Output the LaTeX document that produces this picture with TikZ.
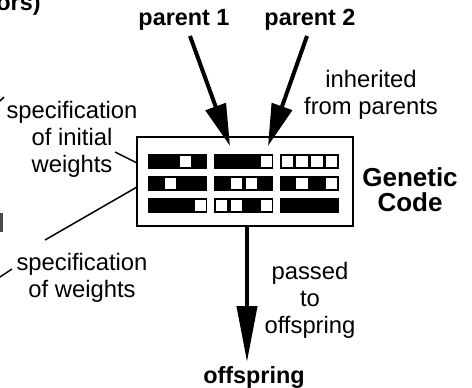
\documentclass[tikz,border=0pt]{standalone}
\usepackage{fontspec}
\setmainfont{Liberation Sans}
\usetikzlibrary{arrows.meta}
\begin{document}
\begin{tikzpicture}[x=0.5pt,y=-0.5pt,
  lbl/.style={inner sep=0pt, align=center, font=\fontsize{11.9}{13.5}\selectfont},
  blbl/.style={inner sep=0pt, align=center, font=\fontsize{11.7}{13.5}\selectfont\bfseries},
  bigarrow/.style={line width=2pt, -{Triangle[length=21pt,width=10.5pt]}},
  longarrow/.style={line width=2pt, -{Triangle[length=28pt,width=10pt]}},
  leader/.style={line width=0.75pt},
  box/.style={draw, line width=1pt, minimum width=108pt, minimum height=44.5pt, inner sep=0pt}]
\useasboundingbox (0,0) rectangle (472,387);
% cropped fragments at the left edge
\node[blbl, anchor=base east] (frag) at (41,10) {ors)};
\draw[leader] (0,101) -- (4,97);
\fill[black!70] (0,213) rectangle (2.5,232);
% genetic code box
\node[box] (gc) at (245,181.5) {};
% genes
\foreach \row/\y in {1/154,2/176,3/198}{
  \foreach \col/\x in {1/148,2/214,3/280}{
    \fill (\x,\y) rectangle ++(59,15);
  }
}
\foreach \x/\y in {
  178/154, 
  259/154, 
  280/154, 294.75/154, 309.5/154, 324.25/154,
  163/176,
  229/176, 244/176,
  294.75/176, 324.25/176,
  193/198,
  214/198, 229/198, 259/198}{
  \fill[white] (\x+1.7,\y+1.7) rectangle ++(11.3,11.6);
}
% labels
\node[blbl] (p1) at (184,20) {parent 1};
\node[blbl] (p2) at (310,20) {parent 2};
\node[blbl] (off) at (254,377) {offspring};
\node[inner sep=0pt, align=center, font=\fontsize{13}{12.5}\selectfont\bfseries] (gcl) at (410,190) {Genetic\\Code};
\node[lbl] (inh) at (371,95) {inherited\\from parents};
\node[lbl] (spi) at (72,139) {specification\\of initial\\weights};
\node[lbl] (spw) at (82,278) {specification\\of weights};
\node[lbl] (pas) at (310,300) {passed\\to\\offspring};
% arrows
\coordinate (p1s) at (190,36);
\coordinate (p1e) at (230,146);
\coordinate (p2s) at (307,36);
\coordinate (p2e) at (268,146);
\coordinate (os) at (247,226);
\coordinate (oe) at (247,362);
\draw[bigarrow] (p1s) -- (p1e);
\draw[bigarrow] (p2s) -- (p2e);
\draw[longarrow] (os) -- (oe);
% leader lines
\coordinate (l1a) at (115,152);
\coordinate (l1b) at (137,163);
\coordinate (l2a) at (45,240);
\coordinate (l2b) at (137,187);
\coordinate (l3a) at (0,277);
\coordinate (l3b) at (12,269);
\draw[leader] (l1a) -- (l1b);
\draw[leader] (l2a) -- (l2b);
\draw[leader] (l3a) -- (l3b);
\end{tikzpicture}
\end{document}
